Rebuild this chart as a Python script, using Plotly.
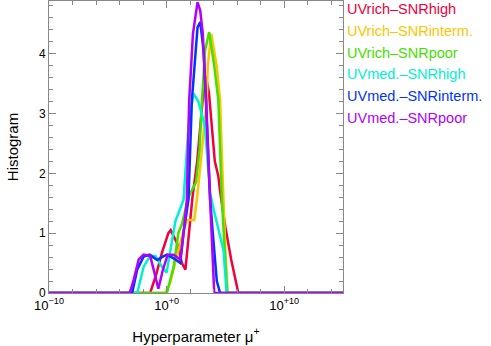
import plotly.graph_objects as go

# log10(mu+) positions and histogram values
red_lx = [-10, -1.4, -0.9, -0.4, 0.15, 0.35, 0.9, 1.3, 1.6, 1.9, 2.2, 2.6, 3.1, 3.35, 3.6, 4.1, 4.4, 4.55, 5.0, 5.5, 6.1, 15]
red_y = [0, 0, 0.3, 0.67, 1.0, 1.05, 0.83, 0.5, 0.39, 1.0, 1.6, 2.2, 3.3, 3.62, 3.35, 2.2, 1.95, 1.7, 1.1, 0.55, 0, 0]

orange_lx = [-10, -0.1, 0.3, 0.9, 1.45, 1.75, 2.35, 2.6, 3.0, 3.42, 3.5, 3.8, 4.27, 4.55, 4.7, 4.85, 5.0, 5.2, 15]
orange_y = [0, 0, 0.17, 0.61, 1.06, 1.22, 1.22, 1.6, 2.4, 3.22, 3.8, 4.33, 3.78, 3.22, 2.3, 1.4, 0.7, 0, 0]

green_lx = [-10, 0.03, 0.6, 1.0, 1.3, 1.86, 2.1, 2.5, 2.8, 3.0, 3.28, 3.62, 4.05, 4.4, 4.7, 4.95, 5.15, 15]
green_y = [0, 0, 0.44, 1.0, 1.15, 1.6, 1.7, 1.85, 2.4, 3.2, 4.06, 4.36, 3.8, 3.22, 1.56, 0.6, 0, 0]

cyan_lx = [-10, -2.5, -1.95, -1.4, -0.95, -0.4, 0.0, 0.3, 0.75, 1.44, 1.9, 2.3, 2.7, 3.25, 3.7, 4.0, 4.3, 4.85, 5.1, 15]
cyan_y = [0, 0, 0.44, 0.62, 0.62, 0.44, 0.34, 0.7, 1.2, 1.56, 2.9, 3.33, 3.2, 2.8, 1.67, 1.4, 1.17, 0.7, 0, 0]

blue_lx = [-10, -2.93, -2.5, -1.95, -1.45, -0.8, -0.4, 0.03, 0.6, 1.16, 1.44, 1.86, 2.15, 2.35, 2.63, 2.86, 3.14, 3.36, 3.7, 3.93, 4.27, 4.55, 15]
blue_y = [0, 0, 0.39, 0.61, 0.64, 0.55, 0.6, 0.64, 0.58, 0.5, 1.0, 1.56, 3.22, 3.78, 4.44, 4.53, 4.06, 3.22, 1.56, 1.0, 0.2, 0, 0]

violet_lx = [-10, -3.14, -2.8, -2.37, -1.95, -1.4, -1.1, -0.7, -0.3, 0.1, 0.6, 1.16, 1.44, 1.72, 1.92, 2.07, 2.24, 2.63, 2.86, 3.08, 3.19, 3.34, 3.7, 4.05, 15]
violet_y = [0, 0, 0.22, 0.56, 0.64, 0.62, 0.39, 0.07, 0.4, 0.64, 0.64, 0.56, 1.0, 1.56, 3.22, 3.78, 4.33, 4.86, 4.72, 4.33, 3.78, 3.22, 1.56, 0, 0]

names = ["UVrich\u2013SNRhigh", "UVrich\u2013SNRinterm.", "UVrich\u2013SNRpoor",
         "UVmed.\u2013SNRhigh", "UVmed.\u2013SNRinterm.", "UVmed.\u2013SNRpoor"]
colors = ["#f0003c", "#ffc400", "#44e000", "#00f0d0", "#0033ff", "#b000ff"]
series = [(red_lx, red_y), (orange_lx, orange_y), (green_lx, green_y),
          (cyan_lx, cyan_y), (blue_lx, blue_y), (violet_lx, violet_y)]

fig = go.Figure()

for (lx, y), name, col in zip(series, names, colors):
    fig.add_trace(go.Scatter(
        x=[10 ** v for v in lx], y=y, mode="lines", name=name,
        line=dict(color=col, width=2.5), showlegend=False
    ))

# coloured text legend on the right
for i, (name, col) in enumerate(zip(names, colors)):
    fig.add_annotation(
        text=name, xref="paper", yref="paper", x=1, xshift=2,
        y=1 - (8 + 21.8 * i) / 292, xanchor="left", yanchor="middle",
        showarrow=False, font=dict(color=col, size=14.5)
    )

fig.update_layout(
    width=491, height=346,
    margin=dict(l=49, r=148, t=1, b=53),
    plot_bgcolor="white", paper_bgcolor="white",
    font=dict(family="Liberation Sans, Arial, sans-serif", color="black", size=12),
)

fig.update_xaxes(
    type="log", range=[-10, 15],
    tickvals=[1e-10, 1, 1e10],
    ticktext=["10<sup>\u221210</sup>", "10<sup>+0</sup>", "10<sup>+10</sup>"],
    tickfont=dict(size=13),
    ticks="inside", ticklen=7, tickcolor="#888", showline=True, linecolor="#888",
    mirror="ticks", showgrid=False, zeroline=False,
    minor=dict(dtick=2, ticks="inside", ticklen=4, tickcolor="#888", showgrid=False),
    title=dict(text="Hyperparameter \u03bc<sup>+</sup>", font=dict(size=15), standoff=19),
)
fig.update_yaxes(
    range=[0, 4.88], dtick=1,
    ticks="inside", ticklen=7, tickcolor="#888", showline=True, linecolor="#888",
    mirror="ticks", showgrid=False, zeroline=False,
    minor=dict(dtick=0.2, ticks="inside", ticklen=4, tickcolor="#888", showgrid=False),
    title=dict(text="Histogram", font=dict(size=15), standoff=16),
)

fig.write_html("out.html", config={"displayModeBar": False},
               post_script="document.body.style.margin='0';")
